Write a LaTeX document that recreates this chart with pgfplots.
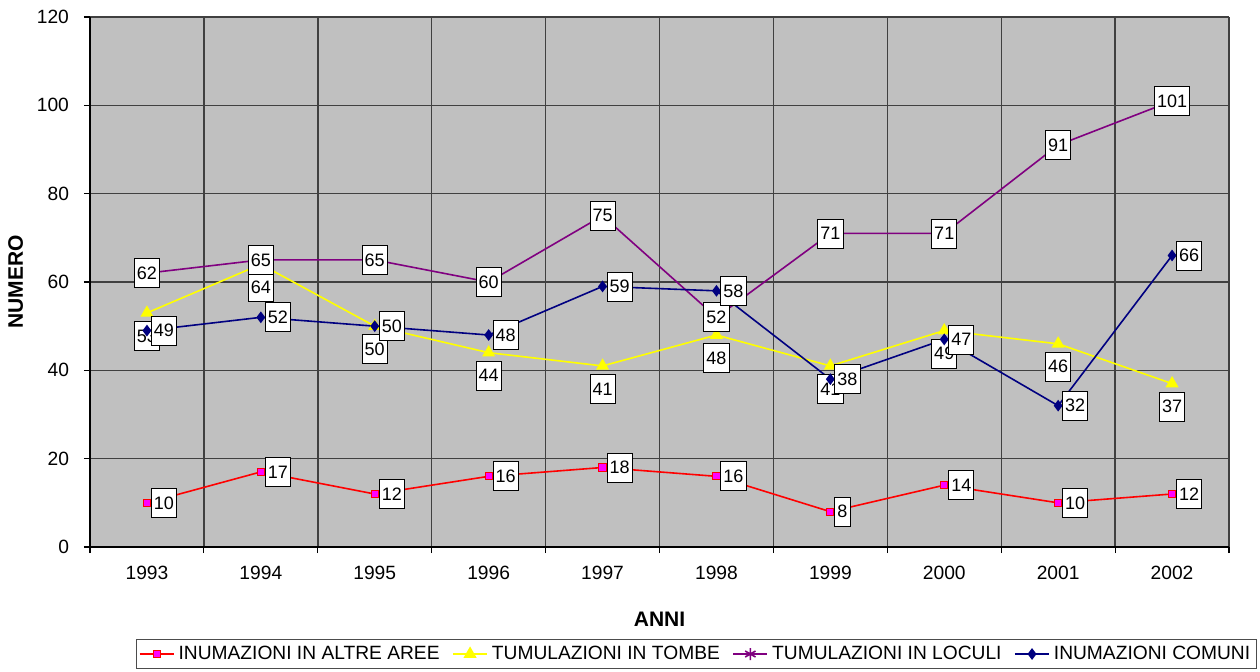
\documentclass[border=0pt]{standalone}
\usepackage{fontspec}
\setmainfont{Liberation Sans}
\usepackage{pgfplots}
\pgfplotsset{compat=1.18}
\definecolor{cred}{HTML}{FF0000}
\definecolor{cmag}{HTML}{FF00FF}
\definecolor{cyel}{HTML}{FFFF00}
\definecolor{cpur}{HTML}{800080}
\definecolor{cnav}{HTML}{000080}
\definecolor{bg}{HTML}{C0C0C0}
\begin{document}
\begin{tikzpicture}
\begin{axis}[name=ax,
  scale only axis, width=569.5pt, height=265pt,
  /pgf/number format/assume math mode=true,
  font=\fontsize{9.6}{11}\selectfont,
  axis background/.style={fill=bg},
  xmin=-0.5, xmax=9.5, ymin=0, ymax=120,
  xtick={0,...,9},
  xticklabels={1993,1994,1995,1996,1997,1998,1999,2000,2001,2002},
  minor xtick={-0.5,0.5,...,9.5},
  ytick={0,20,...,120},
  xminorgrids=true, ymajorgrids=true,
  grid style={black!75, line width=0.7pt},
  minor grid style={black!75, line width=0.7pt},
  major x tick style={draw=none},
  minor tick length=3pt, major tick length=3pt,
  tick align=outside,
  x tick style={black, line width=0.6pt},
  y tick style={black, line width=0.6pt},
  axis x line*=bottom, axis y line*=left,
  axis line style={black, line width=0.7pt},
  xticklabel style={yshift=-3pt},
  yticklabel style={xshift=-4pt},
  xlabel={\bfseries ANNI}, ylabel={\bfseries NUMERO},
  xlabel style={font=\fontsize{10.5}{12}\selectfont, yshift=-9.5pt},
  ylabel style={font=\fontsize{10.5}{12}\selectfont, yshift=0pt},
  legend columns=4,
  legend style={at={(0.5325,-0.2019)}, anchor=center, draw=black!70, line width=0.6pt, font=\fontsize{9.6}{11}\selectfont, inner sep=1pt, /tikz/every even column/.append style={column sep=4.3pt}},
  legend cell align=left,
  every node near coord/.style={draw=black, line width=0.4pt, fill=white, text=black, inner xsep=1.3pt, inner ysep=1pt, minimum height=14.5pt, font=\fontsize{9}{11}\selectfont},
  nodes near coords,
  point meta=explicit,
]
\addplot[cred, line width=0.8pt, mark=square*, mark size=1.8pt, mark options={fill=cmag, draw=cred, line width=0.5pt},
  every node near coord/.append style={anchor=west, xshift=2pt}]
  coordinates {(0,10)[10] (1,17)[17] (2,12)[12] (3,16)[16] (4,18)[18] (5,16)[16] (6,8)[8] (7,14)[14] (8,10)[10] (9,12)[12]};
\addlegendentry{INUMAZIONI IN ALTRE AREE}
\addplot[cyel, line width=0.8pt, mark=triangle*, mark size=3pt, mark options={fill=cyel, draw=cyel},
  every node near coord/.append style={anchor=north, yshift=-4pt}]
  coordinates {(0,53)[53] (1,64)[64] (2,50)[50] (3,44)[44] (4,41)[41] (5,48)[48] (6,41)[41] (7,49)[49] (8,46)[46] (9,37)[37]};
\addlegendentry{TUMULAZIONI IN TOMBE}
\addplot[cpur, line width=0.8pt, mark=asterisk, mark size=3pt, mark options={draw=cpur},
  every node near coord/.append style={anchor=center}]
  coordinates {(0,62)[62] (1,65)[65] (2,65)[65] (3,60)[60] (4,75)[75] (5,52)[52] (6,71)[71] (7,71)[71] (8,91)[91] (9,101)[101]};
\addlegendentry{TUMULAZIONI IN LOCULI}
\addplot[cnav, line width=0.8pt, mark=diamond*, mark size=2.3pt, mark options={fill=cnav, draw=cnav},
  every node near coord/.append style={anchor=west, xshift=2pt}]
  coordinates {(0,49)[49] (1,52)[52] (2,50)[50] (3,48)[48] (4,59)[59] (5,58)[58] (6,38)[38] (7,47)[47] (8,32)[32] (9,66)[66]};
\addlegendentry{INUMAZIONI COMUNI}
\end{axis}
\pgfresetboundingbox
\path (ax.south west) ++(-45pt,-62pt) coordinate (bl);
\path (ax.north east) ++(15.5pt,8.5pt) coordinate (tr);
\useasboundingbox (bl) rectangle (tr);
\end{tikzpicture}
\end{document}
